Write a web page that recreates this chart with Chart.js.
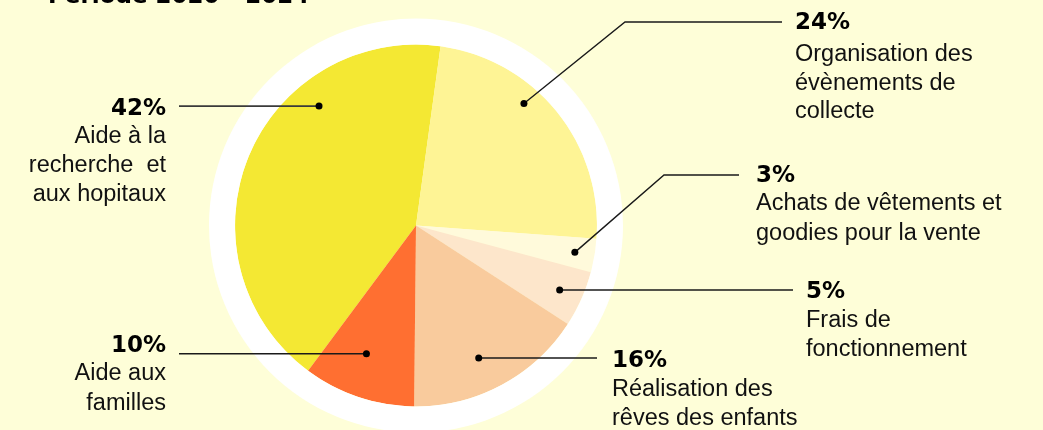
<!DOCTYPE html>
<html lang="fr">
<head>
<meta charset="utf-8">
<script src="https://cdn.jsdelivr.net/npm/chart.js@4/dist/chart.umd.min.js"></script>
<style>
  html, body { margin: 0; padding: 0; background: #FEFED8; overflow: hidden; }
  #wrap { position: absolute; left: 0; top: 0; width: 1043px; height: 440px; }
</style>
</head>
<body>
<div id="wrap"><canvas id="pie" width="1043" height="440"></canvas></div>
<script>
// ─── Data ─────────────────────────────────────────────────────────────────────

const categories = [
  'Aide à la recherche et aux hopitaux',
  'Organisation des évènements de collecte',
  'Achats de vêtements et goodies pour la vente',
  'Frais de fonctionnement',
  'Réalisation des rêves des enfants',
  'Aide aux familles',
];
const shares = [42, 24, 3, 5, 16, 10];
const labelLines = [
  ['Aide à la', 'recherche  et', 'aux hopitaux'],
  ['Organisation des', 'évènements de', 'collecte'],
  ['Achats de vêtements et', 'goodies pour la vente'],
  ['Frais de', 'fonctionnement'],
  ['Réalisation des', 'rêves des enfants'],
  ['Aide aux', 'familles'],
];
const title = 'Période 2020 - 2024';

// ─── Styles / layout ──────────────────────────────────────────────────────────

const colors = ['#F4E833', '#FEF495', '#FFFADB', '#FDE6CB', '#F9CB9D', '#FF6F31'];
const BG = '#FEFED8';

// dot: t = fraction along slice angle, r = fraction of radius
// end: end of leader, elbow: optional bend point, text: anchor + baselines
const leaders = [
  { t: 0.69, r: 0.85, elbow: null, endX: 179, align: 'right', x: 166, pctY: 115, lineY: [143, 172, 201] },
  { t: 0.39, r: 0.90, elbow: [625, 22], endX: 782, align: 'left', x: 795, pctY: 29, lineY: [61, 90, 118] },
  { t: 0.50, r: 0.89, elbow: [664, 175], endX: 739, align: 'left', x: 756, pctY: 182, lineY: [210, 240] },
  { t: 0.51, r: 0.87, elbow: null, endX: 793, align: 'left', x: 806, pctY: 298, lineY: [327, 356] },
  { t: 0.55, r: 0.81, elbow: null, endX: 597, align: 'left', x: 612, pctY: 367, lineY: [396, 425] },
  { t: 0.57, r: 0.76, elbow: null, endX: 179, align: 'right', x: 166, pctY: 352, lineY: [380, 410] },
];

// ─── Plugins ──────────────────────────────────────────────────────────────────

const labelPlugin = {
  id: 'leaderLabels',
  afterDraw(chart) {
    const ctx = chart.ctx;
    const arcs = chart.getDatasetMeta(1).data;
    ctx.save();

    arcs.forEach((arc, i) => {
      const L = leaders[i];
      const a = arc.startAngle + L.t * (arc.endAngle - arc.startAngle);
      const rr = L.r * arc.outerRadius;
      const dx = arc.x + Math.cos(a) * rr;
      const dy = arc.y + Math.sin(a) * rr;

      // leader line
      ctx.strokeStyle = i === 0 ? '#3a3a3a' : '#1a1a1a';
      ctx.lineWidth = i === 0 ? 1.8 : 1.4;
      ctx.beginPath();
      ctx.moveTo(dx, dy);
      if (L.elbow) {
        ctx.lineTo(L.elbow[0], L.elbow[1]);
        ctx.lineTo(L.endX, L.elbow[1]);
      } else {
        ctx.lineTo(L.endX, dy);
      }
      ctx.stroke();

      // dot
      ctx.fillStyle = '#000';
      ctx.beginPath();
      ctx.arc(dx, dy, 3.5, 0, Math.PI * 2);
      ctx.fill();

      // text
      ctx.textAlign = L.align;
      ctx.textBaseline = 'alphabetic';
      ctx.fillStyle = '#000';
      ctx.font = 'bold 23px "DejaVu Sans"';
      ctx.fillText(shares[i] + '%', L.x, L.pctY);
      ctx.fillStyle = '#111';
      ctx.font = '23.5px "Liberation Sans", Arial, sans-serif';
      labelLines[i].forEach((ln, k) => ctx.fillText(ln, L.x, L.lineY[k]));
    });

    // title (mostly cropped at top)
    ctx.textAlign = 'left';
    ctx.fillStyle = '#000';
    ctx.font = 'bold 23px "DejaVu Sans"';
    ctx.fillText(title, 48, 3);

    ctx.restore();
  },
};

const bgPlugin = {
  id: 'bg',
  beforeDraw(chart) {
    const ctx = chart.ctx;
    ctx.save();
    ctx.fillStyle = BG;
    ctx.fillRect(0, 0, chart.width, chart.height);
    ctx.restore();
  },
};

// ─── Chart ────────────────────────────────────────────────────────────────────

new Chart(document.getElementById('pie'), {
  type: 'pie',
  data: {
    labels: categories,
    datasets: [
      {
        // white outer ring
        data: [1],
        backgroundColor: ['#FFFFFF'],
        borderWidth: 0,
        weight: 26,
      },
      {
        data: shares,
        backgroundColor: colors,
        borderWidth: 0,
        weight: 181,
      },
    ],
  },
  options: {
    responsive: false,
    animation: false,
    rotation: 7.8 - 42 * 3.6,
    layout: { padding: { left: 209, right: 420, top: 18.5, bottom: 7.5 } },
    plugins: {
      legend: { display: false },
      tooltip: { enabled: false },
    },
    events: [],
  },
  plugins: [bgPlugin, labelPlugin],
});
</script>
</body>
</html>
